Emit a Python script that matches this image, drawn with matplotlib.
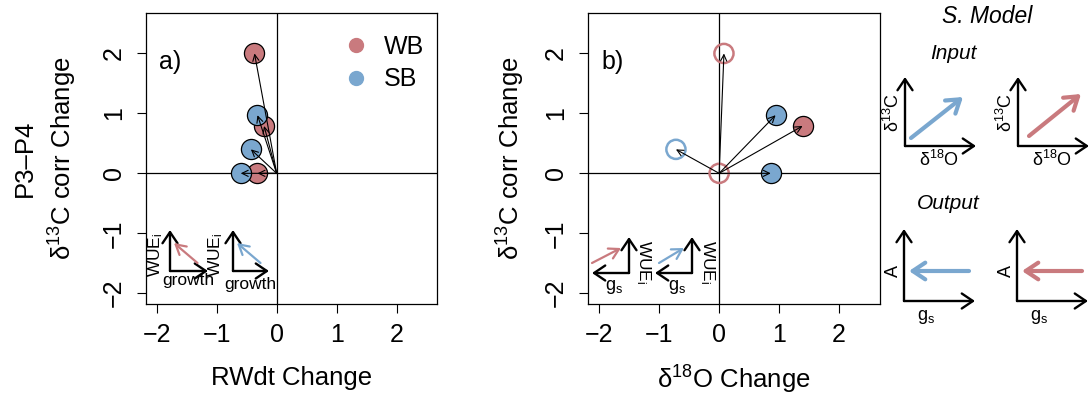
import matplotlib
matplotlib.use("Agg")
import matplotlib.pyplot as plt
from matplotlib.lines import Line2D

plt.rcParams["font.family"] = ["Liberation Sans", "DejaVu Sans"]
plt.rcParams["mathtext.fontset"] = "custom"
plt.rcParams["mathtext.rm"] = "Liberation Sans"
plt.rcParams["mathtext.it"] = "Liberation Sans:italic"

W, H = 1089, 394

# P3-P4 changes per site
wb_rwdt = [-0.37, -0.21, -0.32]
wb_d13c = [2.00, 0.79, 0.00]
wb_d18o = [0.08, 1.39, 0.00]
wb_fits_model = [False, True, False]

sb_rwdt = [-0.32, -0.43, -0.60]
sb_d13c = [0.97, 0.40, 0.00]
sb_d18o = [0.94, -0.72, 0.86]
sb_fits_model = [True, False, True]

groups = ["WB", "SB"]
ticks = [-2, -1, 0, 1, 2]
lims = (-2.18, 2.68)

col_wb = "#C97A7E"
col_sb = "#7AA7CF"

fig = plt.figure(figsize=(W / 100, H / 100), dpi=100)


def box(x0, y0, x1, y1):
    return [x0 / W, 1 - y1 / H, (x1 - x0) / W, (y1 - y0) / H]


def setup(ax):
    ax.set_xlim(lims)
    ax.set_ylim(lims)
    ax.set_xticks(ticks)
    ax.set_yticks(ticks)
    ax.set_xticklabels(["\u2212%d" % -t if t < 0 else str(t) for t in ticks])
    ax.set_yticklabels(["\u2212%d" % -t if t < 0 else str(t) for t in ticks],
                       rotation=90, va="center")
    ax.tick_params(length=6.5, width=0.8, labelsize=18)
    ax.tick_params(axis="x", pad=7)
    ax.tick_params(axis="y", pad=8)
    for s in ax.spines.values():
        s.set_linewidth(0.9)
    ax.axhline(0, color="black", lw=0.9, zorder=1)
    ax.axvline(0, color="black", lw=0.9, zorder=1)


def points(ax, xs, ys, col, filled):
    for x, y, f in zip(xs, ys, filled):
        if f:
            ax.scatter(x, y, s=210, facecolor=col, edgecolor="black", lw=0.9, zorder=3)
        else:
            ax.scatter(x, y, s=190, facecolor="none", edgecolor=col, lw=1.8, zorder=3)


def vectors(ax, xs, ys):
    for x, y in zip(xs, ys):
        ax.annotate("", xy=(x, y), xytext=(0, 0),
                    arrowprops=dict(arrowstyle="->,head_length=0.45,head_width=0.22",
                                    lw=0.8, color="black", shrinkA=0, shrinkB=0,
                                    mutation_scale=10), zorder=4)


# a) ring width vs d13C
ax_a = fig.add_axes(box(146, 12.7, 437.3, 304))
setup(ax_a)
points(ax_a, wb_rwdt, wb_d13c, col_wb, [True] * 3)
points(ax_a, sb_rwdt, sb_d13c, col_sb, [True] * 3)
vectors(ax_a, wb_rwdt, wb_d13c)
vectors(ax_a, sb_rwdt, sb_d13c)
ax_a.text(0.045, 0.83, "a)", transform=ax_a.transAxes, fontsize=18, va="center")
handles = [Line2D([], [], ls="", marker="o", ms=10, mfc=c, mec=c) for c in (col_wb, col_sb)]
ax_a.legend(handles, groups, loc="upper left", bbox_to_anchor=(0.575, 0.985), frameon=False,
            fontsize=18, handletextpad=0.1, labelspacing=0.35, borderaxespad=0.3)
ax_a.set_xlabel("RWdt Change", fontsize=18.5, labelpad=14)

# b) d18O vs d13C
ax_b = fig.add_axes(box(588.3, 12.7, 880, 304))
setup(ax_b)
points(ax_b, wb_d18o, wb_d13c, col_wb, wb_fits_model)
points(ax_b, sb_d18o, sb_d13c, col_sb, sb_fits_model)
vectors(ax_b, wb_d18o, wb_d13c)
vectors(ax_b, sb_d18o, sb_d13c)
ax_b.text(0.045, 0.83, "b)", transform=ax_b.transAxes, fontsize=18, va="center")
ax_b.set_xlabel("\u03b4$^{18}$O Change", fontsize=18.5, labelpad=12)
ax_b.set_ylabel("\u03b4$^{13}$C corr Change", fontsize=18.5, labelpad=12)

fig.text(63 / W, 1 - 158 / H, "\u03b4$^{13}$C corr Change", rotation=90,
         ha="center", va="center", fontsize=18.5)
fig.text(25 / W, 1 - 158 / H, "P3\u2013P4", rotation=90,
         ha="center", va="center", fontsize=18.5)

# schematic overlay in pixel coordinates
ov = fig.add_axes([0, 0, 1, 1], zorder=10)
ov.set_xlim(0, W)
ov.set_ylim(H, 0)
ov.axis("off")


def arrow(x0, y0, x1, y1, color="black", lw=1.7, hl=0.4, hw=0.27):
    ov.annotate("", xy=(x1, y1), xytext=(x0, y0),
                arrowprops=dict(arrowstyle="->,head_length=%g,head_width=%g" % (hl, hw),
                                lw=lw, color=color, shrinkA=0, shrinkB=0,
                                mutation_scale=20))


def frame(ox, oy, x_end, y_top):
    arrow(ox, oy, ox, y_top)
    arrow(ox, oy, x_end, oy)


# panel a insets: WUEi vs growth
for ox, xe, c, tx, gx, gy in ((170, 208, col_wb, 156, 188, 281),
                              (233, 269, col_sb, 216, 250, 285)):
    frame(ox, 271, xe, 230)
    arrow(ox + 27.5, 263, ox + 4, 243, color=c, lw=1.6, hl=0.35, hw=0.2)
    ov.text(tx, 255, "WUE$_\\mathrm{i}$", rotation=90, ha="center", va="center", fontsize=12.5)
    ov.text(gx, gy, "growth", ha="center", va="center", fontsize=12.5)

# panel b insets: WUEi vs gs
for ox, xe, c, x0, tx, gx in ((629, 592, col_wb, 592, 643, 614),
                              (692, 655, col_sb, 659, 707, 677)):
    arrow(ox, 273, ox, 237)
    arrow(ox, 273, xe, 273)
    arrow(x0, 263, ox - 8, 248, color=c, lw=1.6, hl=0.35, hw=0.2)
    ov.text(tx, 262, "WUE$_\\mathrm{i}$", rotation=-90, ha="center", va="center", fontsize=12.5)
    ov.text(gx, 287, "g$_\\mathrm{s}$", ha="center", va="center", fontsize=13)

# scenario model
ov.text(987, 16, "S. Model", style="italic", ha="center", va="center", fontsize=16.5)
ov.text(953, 53, "Input", style="italic", ha="center", va="center", fontsize=15)
ov.text(948, 203, "Output", style="italic", ha="center", va="center", fontsize=15)

for ox, c, a0, a1 in ((905, col_sb, (911, 138), (963, 97)),
                      (1018, col_wb, (1029, 136), (1081, 94))):
    frame(ox, 146, ox + 71, 77)
    arrow(a0[0], a0[1], a1[0], a1[1], color=c, lw=3, hl=0.45, hw=0.3)
    ov.text(ox - 12, 113, "\u03b4$^{13}$C", rotation=90, ha="center", va="center", fontsize=13)
    ov.text(ox + 34, 160, "\u03b4$^{18}$O", ha="center", va="center", fontsize=13)

for ox, c in ((904, col_sb), (1017, col_wb)):
    frame(ox, 301, ox + 71, 229)
    arrow(ox + 65, 271, ox + 5, 271, color=c, lw=3, hl=0.45, hw=0.3)
    ov.text(ox - 11, 271, "A", rotation=90, ha="center", va="center", fontsize=13)
    ov.text(ox + 22, 317, "g$_\\mathrm{s}$", ha="center", va="center", fontsize=13)

fig.savefig("out.png", dpi=100)
